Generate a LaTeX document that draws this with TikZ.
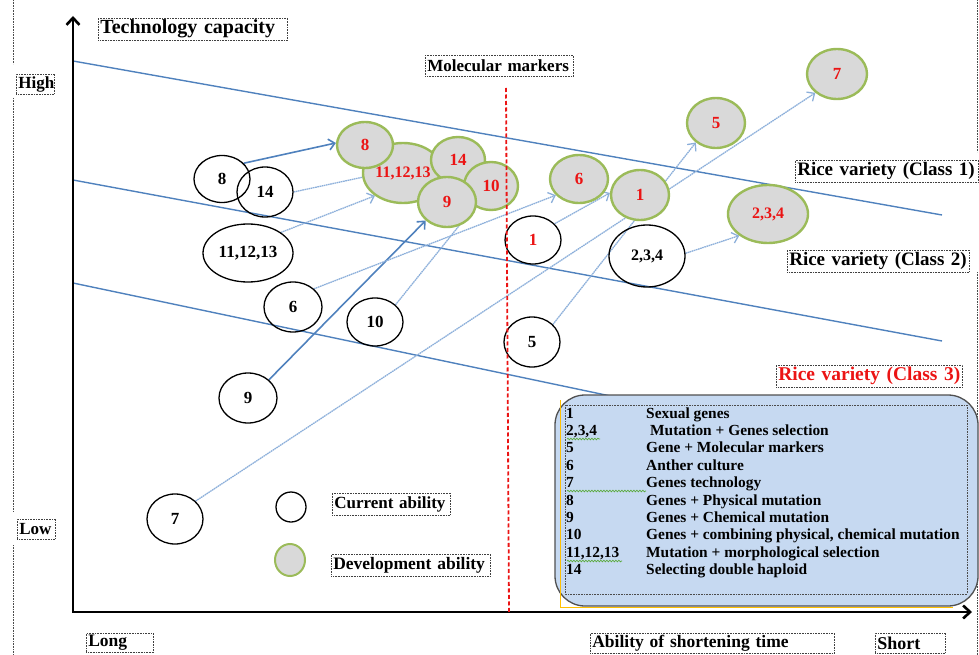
\documentclass[tikz,border=0pt]{standalone}
\usepackage{fontspec}
\setmainfont{Liberation Serif}
\usetikzlibrary{shapes.geometric,arrows.meta,decorations.pathmorphing}

\definecolor{riceblue}{RGB}{79,129,189}
\definecolor{paleblue}{RGB}{140,175,218}
\definecolor{devgreen}{RGB}{155,187,89}
\definecolor{devgray}{RGB}{217,217,217}
\definecolor{legendfill}{RGB}{198,217,241}
\definecolor{markred}{RGB}{235,20,20}
\definecolor{boxedge}{RGB}{80,80,80}
\definecolor{spellgreen}{RGB}{90,170,60}
\definecolor{edgeyellow}{RGB}{255,192,0}

\pgfdeclarelayer{background}
\pgfsetlayers{background,main}

\tikzset{
  cur/.style={ellipse, draw=black, line width=1.3pt, inner sep=0pt,
    font=\fontsize{17}{17}\selectfont\bfseries},
  dev/.style={ellipse, draw=devgreen, line width=2.4pt, fill=devgray, inner sep=0pt,
    text=markred, font=\fontsize{17}{17}\selectfont\bfseries},
  lbl/.style={draw=black!75, densely dotted, line width=0.6pt, inner sep=2pt,
    anchor=west, align=left, minimum height=22pt,
    font=\fontsize{18}{18}\selectfont\bfseries},
  guide/.style={black!70, densely dotted, line width=0.6pt},
  band/.style={riceblue, line width=1.4pt},
  firm/.style={riceblue, line width=1.6pt, -{Straight Barb[length=6pt,width=11pt]}},
  faintline/.style={paleblue, line width=1.3pt, dash pattern=on 1.6pt off 0.6pt},
  faint/.style={faintline, -{Straight Barb[length=6pt,width=11pt]}},
  keytext/.style={anchor=base west, inner sep=0pt, font=\fontsize{15.4}{15.4}\selectfont\bfseries},
  spell/.style={spellgreen, line width=0.7pt,
    decorate, decoration={snake, amplitude=0.8pt, segment length=3pt}},
}

\begin{document}
\begin{tikzpicture}[x=1pt,y=-1pt]
\useasboundingbox (0,0) rectangle (979,655);

% dotted side guides
\draw[guide] (13,0) -- (13,64) (13,98) -- (13,512) (13,545) -- (13,655);
\draw[guide] (977,0) -- (977,152) (977,272) -- (977,655);

% axes
\draw[line width=2.6pt, {Straight Barb[length=7pt,width=13pt]}-{Straight Barb[length=7pt,width=13pt]}]
  (73,16) -- (73,612) -- (972,612);

% axis and band labels (single-line texts kept in an \mbox)
\node[lbl, text width=185pt, font=\fontsize{20}{20}\selectfont\bfseries] (tech) at (98,29) {\mbox{Technology capacity}};
\node[lbl, text width=34pt, minimum height=20pt, font=\fontsize{17}{17}\selectfont\bfseries] (high) at (16,84) {\mbox{High}};
\node[lbl, text width=34pt, minimum height=20pt, font=\fontsize{17}{17}\selectfont\bfseries] (low) at (17,529) {\mbox{Low}};
\node[lbl, text width=63pt, minimum height=19pt, font=\fontsize{17.5}{17.5}\selectfont\bfseries] (long) at (86,643) {\mbox{Long}};
\node[lbl, text width=240pt, minimum height=20pt, font=\fontsize{17.5}{17.5}\selectfont\bfseries] (shorten) at (590,643) {\mbox{Ability of shortening time}};
\node[lbl, text width=66pt, minimum height=20pt] (short) at (875,643) {\mbox{Short}};
\node[lbl, text width=144pt, minimum height=21pt, font=\fontsize{17}{17}\selectfont\bfseries] (mol) at (425,66) {\mbox{Molecular markers}};
\node[lbl, text width=179pt, font=\fontsize{19}{19}\selectfont\bfseries] (class1) at (795,171) {\mbox{Rice variety (Class 1)}};
\node[lbl, text width=178pt, font=\fontsize{19}{19}\selectfont\bfseries] (class2) at (787,261) {\mbox{Rice variety (Class 2)}};
\node[lbl, text width=182pt, text=markred, font=\fontsize{19.5}{19.5}\selectfont\bfseries] (class3) at (776,376) {\mbox{Rice variety (Class 3)}};
\node[lbl, text width=114pt, font=\fontsize{17}{17}\selectfont\bfseries] (curlbl) at (332,504) {\mbox{Current ability}};
\node[lbl, text width=155pt, font=\fontsize{17.5}{17.5}\selectfont\bfseries] (devlbl) at (331,565) {\mbox{Development ability}};

% current ability
\node[cur, minimum width=56pt, minimum height=47pt] (c8) at (222,179) {8};
\node[cur, minimum width=56pt, minimum height=50pt] (c14) at (265,192) {14};
\node[cur, minimum width=90pt, minimum height=58pt] (c11) at (248,253) {11,12,13};
\node[cur, minimum width=58pt, minimum height=50pt] (c6) at (293,307) {6};
\node[cur, minimum width=56pt, minimum height=48pt] (c10) at (375,322) {10};
\node[cur, minimum width=58pt, minimum height=50pt] (c9) at (248,398) {9};
\node[cur, minimum width=56pt, minimum height=50pt] (c7) at (175,519) {7};
\node[cur, minimum width=56pt, minimum height=48pt, text=markred] (c1) at (533,240) {1};
\node[cur, minimum width=56pt, minimum height=50pt] (c5) at (532,342) {5};
\node[cur, minimum width=76pt, minimum height=62pt, font=\fontsize{16}{16}\selectfont\bfseries] (c234) at (647,256) {2,3,4};

% development ability
\node[dev, minimum width=80pt, minimum height=60pt, font=\fontsize{16}{16}\selectfont\bfseries] (d11) at (403,173) {11,12,13};
\node[dev, minimum width=56pt, minimum height=46pt] (d8) at (365,145) {8};
\node[dev, minimum width=54pt, minimum height=46pt] (d14) at (458,160) {14};
\node[dev, minimum width=54pt, minimum height=48pt] (d10) at (491,186) {10};
\node[dev, minimum width=58pt, minimum height=50pt] (d9) at (447,202) {9};
\node[dev, minimum width=58pt, minimum height=48pt] (d6) at (579,179) {6};
\node[dev, minimum width=58pt, minimum height=50pt] (d1) at (640,195) {1};
\node[dev, minimum width=58pt, minimum height=50pt] (d5) at (716,123) {5};
\node[dev, minimum width=60pt, minimum height=50pt] (d7) at (837,74) {7};
\node[dev, minimum width=80pt, minimum height=58pt, font=\fontsize{16}{16}\selectfont\bfseries] (d234) at (768,214) {2,3,4};

% key symbols
\node[cur, minimum width=30pt, minimum height=30pt] (keycur) at (291,507) {};
\node[dev, line width=2pt, minimum width=30pt, minimum height=32pt] (keydev) at (290,560) {};

% bands and transitions behind the ellipses
\begin{pgfonlayer}{background}
  \draw[band] (73,61) -- (942,215);
  \draw[band] (73,180) -- (942,341);
  \draw[band] (73,283) -- (620,398);
  \draw[firm] (c8.36) -- (d8.176);
  \draw[firm] (c9.41) -- (d9.221);
  \draw[faintline] (c14.0) -- (d11.186);
  \draw[faint] (c11.32) -- (d11.219);
  \draw[faint] (c6.41) -- (d6.215);
  \draw[faintline] (c10.40) -- (d10);
  \draw[faint] (c7.41) -- (d7.221);
  \draw[faint] (c5.40) -- (d5.224);
  \draw[faint] (c1.37) -- (d1.176);
  \draw[faint] (c234.4) -- (d234.217);
\end{pgfonlayer}

% molecular marker threshold
\draw[markred, line width=1.8pt, dash pattern=on 4pt off 2.5pt] (506,88) -- (509,612);

% method key
\node[draw=boxedge, fill=legendfill, rounded corners=30pt, line width=1.3pt,
  minimum width=423pt, minimum height=211pt, inner sep=0pt] (key) at (766.5,500.5) {};
\draw[edgeyellow, line width=1pt] (560,400) -- (560,607) -- (953,607);
\draw[guide] (565,405) rectangle (967,594);

\node[keytext] (k1n)  at (566,418) {1};
\node[keytext] (k1t)  at (646,418) {Sexual genes};
\node[keytext] (k2n)  at (566,435.4) {2,3,4};
\node[keytext] (k2t)  at (650,435.4) {Mutation + Genes selection};
\node[keytext] (k3n)  at (566,452.8) {5};
\node[keytext] (k3t)  at (646,452.8) {Gene + Molecular markers};
\node[keytext] (k4n)  at (566,470.2) {6};
\node[keytext] (k4t)  at (646,470.2) {Anther culture};
\node[keytext] (k5n)  at (566,487.6) {7};
\node[keytext] (k5t)  at (646,487.6) {Genes technology};
\node[keytext] (k6n)  at (566,505) {8};
\node[keytext] (k6t)  at (646,505) {Genes + Physical mutation};
\node[keytext] (k7n)  at (566,522.4) {9};
\node[keytext] (k7t)  at (646,522.4) {Genes + Chemical mutation};
\node[keytext] (k8n)  at (566,539.8) {10};
\node[keytext] (k8t)  at (646,539.8) {Genes + combining physical, chemical mutation};
\node[keytext] (k9n)  at (566,557.2) {11,12,13};
\node[keytext] (k9t)  at (646,557.2) {Mutation + morphological selection};
\node[keytext] (k10n) at (566,574.6) {14};
\node[keytext] (k10t) at (646,574.6) {Selecting double haploid};

% spelling marks under the numbers
\draw[spell] (567,439) -- (600,439);
\draw[spell] (567,491) -- (646,491);
\draw[spell] (567,561) -- (622,561);

\end{tikzpicture}
\end{document}
